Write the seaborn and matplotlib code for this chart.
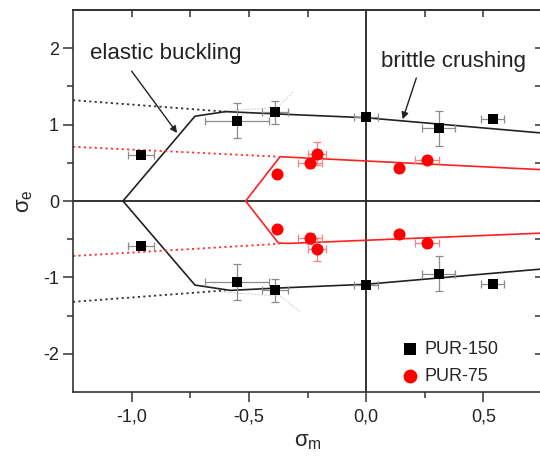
import numpy as np
import pandas as pd
import seaborn as sns
import matplotlib
matplotlib.use("Agg")
import matplotlib.pyplot as plt

pur150_sm = [-0.96, -0.55, -0.39, 0.0, 0.31, 0.54, -0.96, -0.55, -0.39, 0.0, 0.31, 0.54]
pur150_se = [0.60, 1.05, 1.16, 1.10, 0.95, 1.08, -0.59, -1.06, -1.17, -1.10, -0.95, -1.09]
pur150_xerr = [0.055, 0.135, 0.055, 0.05, 0.07, 0.05, 0.055, 0.135, 0.055, 0.05, 0.07, 0.05]
pur150_yerr = [0.02, 0.23, 0.15, 0.03, 0.23, 0.03, 0.02, 0.23, 0.15, 0.03, 0.23, 0.03]

pur75_sm = [-0.38, -0.24, -0.21, 0.14, 0.26, -0.38, -0.24, -0.21, 0.14, 0.26]
pur75_se = [0.36, 0.50, 0.62, 0.43, 0.54, -0.36, -0.49, -0.63, -0.43, -0.55]
pur75_xerr = [0.0, 0.05, 0.04, 0.0, 0.05, 0.0, 0.05, 0.04, 0.0, 0.05]
pur75_yerr = [0.0, 0.07, 0.15, 0.0, 0.05, 0.0, 0.07, 0.15, 0.0, 0.05]

# failure envelopes
env150_up_x = [-1.037, -0.73, -0.60, -0.38, 0.0, 0.75]
env150_up_y = [0.0, 1.11, 1.17, 1.14, 1.09, 0.89]
env150_lo_x = [-1.037, -0.73, -0.58, -0.38, 0.0, 0.75]
env150_lo_y = [0.0, -1.10, -1.17, -1.14, -1.09, -0.89]
ext150_x = [-1.25, -0.60]
ext150_up_y = [1.32, 1.17]
ext150_lo_y = [-1.32, -1.17]

env75_up_x = [-0.514, -0.367, 0.75]
env75_up_y = [0.0, 0.58, 0.41]
env75_lo_x = [-0.514, -0.374, -0.33, 0.75]
env75_lo_y = [0.0, -0.55, -0.555, -0.42]
ext75_x = [-1.25, -0.37]
ext75_up_y = [0.71, 0.58]
ext75_lo_y = [-0.72, -0.56]

sns.set_theme(style="ticks")
plt.rcParams['font.family'] = ['Liberation Sans', 'DejaVu Sans']

fig = plt.figure(figsize=(5.4, 4.58), dpi=100)
ax = fig.add_axes([0.1352, 0.1441, 0.8685, 0.834])

# faint construction lines
for xs, ys in [([-0.39, -0.31], [1.19, 1.43]), ([-0.62, -0.40], [1.18, 1.22]),
               ([-0.39, -0.28], [-1.19, -1.45]), ([-0.62, -0.40], [-1.19, -1.24])]:
    ax.plot(xs, ys, color='0.85', lw=0.8, ls=(0, (2, 1)))

# envelopes
sns.lineplot(x=env150_up_x, y=env150_up_y, sort=False, color='#222222', lw=1.2, ax=ax)
sns.lineplot(x=env150_lo_x, y=env150_lo_y, sort=False, color='#222222', lw=1.2, ax=ax)
sns.lineplot(x=ext150_x, y=ext150_up_y, sort=False, color='#333333', lw=1.3, ls=(0, (1.2, 1.8)), ax=ax)
sns.lineplot(x=ext150_x, y=ext150_lo_y, sort=False, color='#333333', lw=1.3, ls=(0, (1.2, 1.8)), ax=ax)
sns.lineplot(x=env75_up_x, y=env75_up_y, sort=False, color='#ff2020', lw=1.2, ax=ax)
sns.lineplot(x=env75_lo_x, y=env75_lo_y, sort=False, color='#ff2020', lw=1.2, ax=ax)
sns.lineplot(x=ext75_x, y=ext75_up_y, sort=False, color='#ff3030', lw=1.3, ls=(0, (1.2, 1.8)), ax=ax)
sns.lineplot(x=ext75_x, y=ext75_lo_y, sort=False, color='#ff3030', lw=1.3, ls=(0, (1.2, 1.8)), ax=ax)

# axes through origin
ax.axhline(0, color='#222222', lw=1.3, zorder=1)
ax.axvline(0, color='#222222', lw=1.3, zorder=1)

# error bars
ax.errorbar(pur150_sm, pur150_se, xerr=pur150_xerr, yerr=pur150_yerr, fmt='none',
            ecolor='0.55', elinewidth=0.9, capsize=3, capthick=0.9, zorder=3)
ax.errorbar(pur75_sm, pur75_se, xerr=pur75_xerr, yerr=pur75_yerr, fmt='none',
            ecolor='#ff8080', elinewidth=0.9, capsize=3, capthick=0.9, zorder=3)

df150 = pd.DataFrame({'sm': pur150_sm, 'se': pur150_se})
df75 = pd.DataFrame({'sm': pur75_sm, 'se': pur75_se})
sns.scatterplot(data=df150, x='sm', y='se', marker='s', s=62, color='black',
                edgecolor='black', linewidth=0, label='PUR-150', ax=ax, zorder=4)
sns.scatterplot(data=df75, x='sm', y='se', marker='o', s=75, color='#ff0000',
                edgecolor='#ff0000', linewidth=0, label='PUR-75', ax=ax, zorder=4)

ax.set_xlim(-1.25, 0.75)
ax.set_ylim(-2.5, 2.5)
ax.set_xticks([-1.0, -0.5, 0.0, 0.5])
ax.set_xticklabels(['-1,0', '-0,5', '0,0', '0,5'])
ax.set_xticks([-0.75, -0.25, 0.25], minor=True)
ax.set_yticks([-2, -1, 0, 1, 2])
ax.set_yticklabels(['-2', '-1', '0', '1', '2'])
ax.set_yticks([-1.5, -0.5, 0.5, 1.5], minor=True)
ax.tick_params(which='major', direction='out', length=7, width=1.1, labelsize=13,
               pad=3, color='#333333', labelcolor='#222222')
ax.tick_params(which='minor', direction='out', length=4, width=1.1, color='#333333')
ax.tick_params(axis='x', which='major', pad=5)

top = ax.secondary_xaxis('top')
top.set_xticks([-1.0, -0.75, -0.5, -0.25, 0.25, 0.5])
top.tick_params(direction='in', length=5, width=1.1, labeltop=False, color='#333333')
right = ax.secondary_yaxis('right')
right.set_yticks([-2, -1.5, -1, -0.5, 0, 0.5, 1, 1.5, 2])
right.tick_params(direction='in', length=5, width=1.1, labelright=False, color='#333333')
for sp in ax.spines.values():
    sp.set_linewidth(1.2)
    sp.set_color('#333333')

ax.set_xlabel('σ$_\\mathregular{m}$', fontsize=16, labelpad=4)
ax.set_ylabel('σ$_\\mathregular{e}$', fontsize=16, labelpad=6)

ax.text(-0.856, 1.93, 'elastic buckling', ha='center', va='center', fontsize=16, color='#222222')
ax.text(0.371, 1.83, 'brittle crushing', ha='center', va='center', fontsize=16, color='#222222')
ax.annotate('', xy=(-0.806, 0.89), xytext=(-1.0, 1.70),
            arrowprops=dict(arrowstyle='-|>', color='#222222', lw=1.0,
                            shrinkA=0, shrinkB=0, mutation_scale=10))
ax.annotate('', xy=(0.156, 1.07), xytext=(0.214, 1.61),
            arrowprops=dict(arrowstyle='-|>', color='#222222', lw=1.0,
                            shrinkA=0, shrinkB=0, mutation_scale=10))

ax.legend(loc='lower right', bbox_to_anchor=(0.935, -0.015), frameon=False,
          fontsize=13, handletextpad=0.3, borderaxespad=0.3, labelspacing=0.55,
          markerscale=1.15, handlelength=1.0)

fig.savefig('out.png', dpi=100)
